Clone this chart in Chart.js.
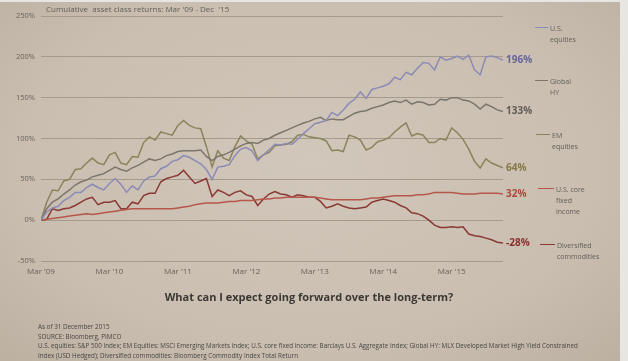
<!DOCTYPE html>
<html lang="en">
<head>
<meta charset="UTF-8">
<title>Cumulative asset class returns</title>
<script src="https://cdn.jsdelivr.net/npm/chart.js"></script>
<style>
  html, body { margin: 0; padding: 0; }
  body { width: 628px; height: 361px; overflow: hidden; position: relative; background: #e8e6e2; font-family: "Open Sans", sans-serif; }
  #paper { position: absolute; left: 0; top: 2px; width: 620px; height: 359px;
           background: radial-gradient(ellipse at 50% 45%, #d1c7ba 0%, #c9beb0 65%, #bcb0a1 100%); }
  #chart { position: absolute; left: 0; top: 0; }
  .t { position: absolute; white-space: nowrap; color: #625d57; line-height: 1; }
  .lg { position: absolute; height: 0; border-top: 1.5px solid; }
</style>
</head>
<body>
<div id="paper"></div>
<canvas id="chart" width="628" height="361"></canvas>

<div class="t" style="left:46px; top:5px; font-size:8px;">Cumulative&nbsp; asset class returns: Mar '09 - Dec&nbsp; '15</div>

<!-- legend -->
<div class="lg" style="left:535px; top:27px; width:13px; border-color:#8c8ab6;"></div>
<div class="t" style="left:550px; top:23px; font-size:7px; line-height:11px;">U.S.<br>equities</div>
<div class="lg" style="left:535px; top:80px; width:13px; border-color:#7b756c;"></div>
<div class="t" style="left:550px; top:76px; font-size:7px; line-height:11px;">Global<br>HY</div>
<div class="lg" style="left:536px; top:134px; width:14px; border-color:#8a845a;"></div>
<div class="t" style="left:552px; top:130px; font-size:7px; line-height:11px;">EM<br>equities</div>
<div class="lg" style="left:538px; top:188px; width:16px; border-color:#b5574a;"></div>
<div class="t" style="left:556px; top:184px; font-size:7px; line-height:11px;">U.S. core<br>fixed<br>income</div>
<div class="lg" style="left:540px; top:244px; width:15px; border-color:#8b3935;"></div>
<div class="t" style="left:557px; top:240px; font-size:7px; line-height:11px;">Diversified<br>commodities</div>

<div class="t" style="left:0; width:618px; text-align:center; top:291px; font-size:11px; font-weight:bold; color:#3b3835;">What can I expect going forward over the long-term?</div>

<div class="t" style="left:38px; top:322px; font-size:6.3px; line-height:9.7px; color:#4a4642;">As of 31 December 2015<br>SOURCE: Bloomberg, PIMCO<br>U.S. equities: S&amp;P 500 Index; EM Equities: MSCI Emerging Markets Index; U.S. core fixed income: Barclays U.S. Aggregate Index; Global HY: MLX Developed Market High Yield Constrained<br>Index (USD Hedged); Diversified commodities: Bloomberg Commodity Index Total Return</div>

<script>
// monthly, Mar '09 (0) .. Dec '15 (81), cumulative return in %
const usEquities = [0, 10, 15, 17, 24, 28, 34, 34, 40, 44, 40, 37, 45, 51, 44, 34, 42, 37, 48, 53,
  54, 63, 66, 72, 74, 79, 77, 73, 69, 62, 50, 65, 66, 68, 79, 87, 89, 85, 73, 80,
  86, 93, 92, 94, 93, 99, 106, 112, 118, 120, 122, 132, 128, 135, 143, 148, 157, 149, 160, 162,
  164, 167, 175, 172, 181, 178, 186, 193, 192, 184, 200, 196, 198, 201, 197, 202, 184, 178, 200, 201,
  199, 196];
const globalHY = [0, 14, 22, 26, 32, 37, 43, 47, 49, 53, 55, 57, 61, 65, 62, 60, 64, 67, 71, 75,
  73, 75, 79, 81, 84, 85, 85, 85, 86, 78, 73, 78, 80, 83, 87, 91, 94, 95, 94, 98,
  100, 104, 107, 110, 113, 116, 119, 121, 124, 126, 122, 124, 123, 123, 127, 131, 133, 134, 137, 139,
  141, 144, 146, 144, 147, 142, 145, 144, 141, 142, 148, 147, 150, 150, 147, 146, 142, 136, 142, 139,
  135, 133];
const emEquities = [0, 22, 37, 36, 48, 50, 62, 63, 70, 76, 70, 68, 80, 83, 70, 68, 78, 77, 95, 102,
  98, 108, 106, 104, 116, 122, 116, 113, 112, 90, 65, 85, 76, 73, 90, 103, 97, 93, 75, 80,
  83, 91, 92, 93, 96, 104, 105, 102, 101, 100, 97, 85, 86, 84, 104, 102, 98, 86, 89, 96,
  98, 101, 108, 114, 119, 103, 106, 104, 95, 95, 100, 98, 113, 107, 99, 87, 72, 64, 75, 70,
  67, 64];
const usCoreFixed = [0, 1, 2, 3, 4, 5, 6, 7, 8, 7, 8, 9, 10, 11, 12, 13, 14, 14, 14, 14,
  14, 14, 14, 14, 15, 16, 17, 19, 20, 21, 21, 21, 22, 23, 23, 24, 24, 24, 25, 26,
  26, 27, 27, 28, 28, 28, 28, 28, 28, 27, 26, 25, 25, 25, 25, 25, 25, 26, 27, 27,
  28, 29, 30, 30, 30, 30, 31, 31, 32, 34, 34, 34, 34, 33, 32, 32, 32, 33, 33, 33,
  33, 32];
const commodities = [0, 1, 14, 12, 14, 15, 18, 22, 26, 28, 19, 22, 22, 24, 14, 14, 22, 20, 30, 33,
  33, 47, 51, 53, 55, 61, 53, 45, 48, 51, 29, 37, 34, 30, 34, 36, 31, 29, 18, 26,
  32, 35, 32, 31, 28, 31, 30, 28, 28, 23, 15, 17, 20, 17, 15, 14, 15, 16, 22, 24,
  26, 24, 22, 18, 15, 9, 8, 5, 0, -6, -9, -9, -8, -9, -8, -17, -19, -20, -22, -24,
  -27, -28];

const tickMonths = [0, 12, 24, 36, 48, 60, 72];
const tickLabels = ["Mar '09", "Mar '10", "Mar '11", "Mar '12", "Mar '13", "Mar '14", "Mar '15"];
const months = usEquities.map((v, i) => i);

const seriesNames = ['U.S. equities', 'Global HY', 'EM equities', 'U.S. core fixed income', 'Diversified commodities'];
const lineColors = ['#8c8ab6', '#7b756c', '#8a845a', '#b5574a', '#8b3935'];
const labelColors = ['#67659a', '#625c55', '#857a45', '#b0473a', '#8a302c'];

const endLabels = {
  id: 'endLabels',
  afterDatasetsDraw(chart) {
    const { ctx, scales: { x, y } } = chart;
    ctx.save();
    ctx.font = 'bold 10px "Open Sans"';
    ctx.textBaseline = 'middle';
    chart.data.datasets.forEach((ds, i) => {
      const last = ds.data[ds.data.length - 1];
      ctx.fillStyle = labelColors[i];
      ctx.fillText(last + '%', x.getPixelForValue(months.length - 1) + 3, y.getPixelForValue(last));
    });
    ctx.restore();
  }
};

const series = [usEquities, globalHY, emEquities, usCoreFixed, commodities];

new Chart(document.getElementById('chart'), {
  type: 'line',
  data: {
    labels: months,
    datasets: series.map((d, i) => ({
      label: seriesNames[i],
      data: d,
      borderColor: lineColors[i],
      borderWidth: 1.5,
      pointRadius: 0,
      tension: 0,
      fill: false
    }))
  },
  options: {
    responsive: false,
    animation: false,
    layout: { padding: { top: 16, right: 125, bottom: 76, left: 0 } },
    plugins: { legend: { display: false }, tooltip: { enabled: false } },
    scales: {
      x: {
        type: 'linear',
        min: 0,
        max: months.length - 1,
        grid: { display: false, drawTicks: false },
        border: { display: false },
        afterBuildTicks: s => { s.ticks = tickMonths.map(v => ({ value: v })); },
        afterFit: s => { s.height = 24; },
        ticks: {
          autoSkip: false,
          maxRotation: 0,
          padding: 6,
          color: '#68625b',
          font: { family: 'Open Sans', size: 8 },
          callback: v => tickLabels[tickMonths.indexOf(v)]
        }
      },
      y: {
        min: -50,
        max: 250,
        grid: { color: '#a59a8c', lineWidth: 1, drawTicks: false },
        border: { display: false },
        afterFit: s => { s.width = 41; },
        ticks: {
          stepSize: 50,
          padding: 6,
          color: '#68625b',
          font: { family: 'Open Sans', size: 7.5 },
          callback: v => v + '%'
        }
      }
    }
  },
  plugins: [endLabels]
});
</script>
</body>
</html>
